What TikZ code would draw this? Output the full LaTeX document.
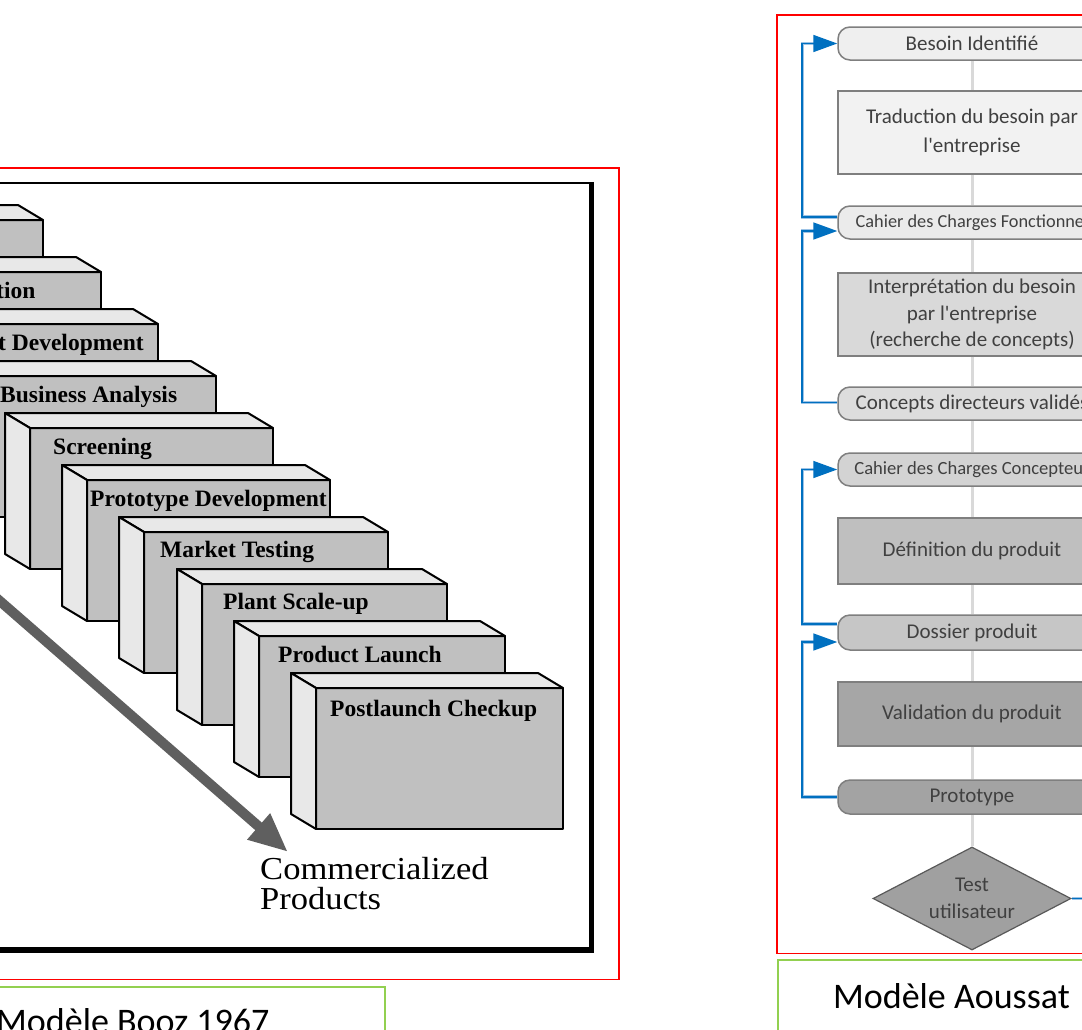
\documentclass[tikz,border=0pt]{standalone}
\usepackage{fontspec}
\setmainfont{Liberation Serif}
\newfontfamily\calib{Carlito}
\newfontfamily\comfont[FakeStretch=1.08]{Liberation Serif}
\usetikzlibrary{arrows.meta,shapes.geometric}
\definecolor{stepfront}{HTML}{C0C0C0}
\definecolor{steplight}{HTML}{E8E8E8}
\definecolor{arrowgray}{HTML}{5F5F5F}
\definecolor{framered}{HTML}{FF0000}
\definecolor{framegreen}{HTML}{92D050}
\definecolor{fbblue}{HTML}{0070C0}
\definecolor{fbhalo}{HTML}{9DC3E6}
\definecolor{axisgray}{HTML}{D9D9D9}
\definecolor{shapeborder}{HTML}{7F7F7F}
\definecolor{labelgray}{HTML}{404040}
\definecolor{fillA}{HTML}{EFEFEF}
\definecolor{fillB}{HTML}{F2F2F2}
\definecolor{fillC}{HTML}{EBEBEB}
\definecolor{fillD}{HTML}{D9D9D9}
\definecolor{fillE}{HTML}{DDDDDD}
\definecolor{fillF}{HTML}{D3D3D3}
\definecolor{fillG}{HTML}{BFBFBF}
\definecolor{fillH}{HTML}{C6C6C6}
\definecolor{fillI}{HTML}{A6A6A6}
\definecolor{fillJ}{HTML}{A3A3A3}
\definecolor{fillK}{HTML}{A0A0A0}
\begin{document}
\begin{tikzpicture}[x=1pt,y=-1pt,
  face/.style={draw=black, line width=2pt, line join=round},
  steptext/.style={anchor=base west, inner sep=0pt, font=\bfseries\fontsize{23.5}{28}\selectfont},
  term/.style={draw=shapeborder, line width=1.5pt, rectangle, rounded corners=12pt, minimum width=268pt, text=labelgray, inner sep=0pt, font=\calib\fontsize{21}{27}\selectfont},
  procbox/.style={draw=shapeborder, line width=1.5pt, rectangle, minimum width=268pt, text=labelgray, inner sep=0pt, align=center, font=\calib\fontsize{21}{27}\selectfont},
  decision/.style={draw=black!65, line width=1.2pt, diamond, aspect=2, minimum width=198pt, minimum height=103pt, inner sep=0pt, fill=fillK, text=labelgray, align=center, font=\calib\fontsize{21}{27}\selectfont},
  axisline/.style={draw=axisgray, line width=3pt},
  fb/.style={draw=fbblue, line width=1.7pt, -{Triangle[length=24pt,width=17pt]}, preaction={draw=fbhalo, line width=3.5pt, arrows=-, shorten >=22pt}},
  fbline/.style={draw=fbblue, line width=1.7pt, preaction={draw=fbhalo, line width=3.5pt}},
  bigarrow/.style={draw=arrowgray, line width=10pt, -{Triangle[length=39pt,width=32pt]}},
  redframe/.style={draw=framered, line width=1.8pt},
  greenframe/.style={draw=framegreen, line width=1.5pt},
  caption/.style={inner sep=0pt, font=\calib\fontsize{36}{40}\selectfont}
]
\path[use as bounding box] (0,0) rectangle (1082,1029);
\clip (0,0) rectangle (1082,1029);
\fill[white] (0,0) rectangle (1082,1029);

% ---------- Booz model ----------
\draw[redframe] (-20,168) rectangle (619,979.5);
\draw[line width=2.3pt] (-20,183) -- (591.7,183);
\draw[line width=4.7pt] (591.7,181.85) -- (591.7,953);
\draw[line width=6.3pt] (-20,950) -- (594,950);

\foreach \fl/\ft/\fr in {-198/220/43, -141/272/101, -84/324/158, -26/376/216, 30/428/273, 87/480/330, 144/532/388, 202/584/447, 259/636/505, 316/688/563}{
  \filldraw[face, fill=stepfront] (\fl,\ft) rectangle (\fr,\ft+141);
  \filldraw[face, fill=steplight] (\fl,\ft) -- (\fl-25,\ft-15) -- (\fr-25,\ft-15) -- (\fr,\ft) -- cycle;
  \filldraw[face, fill=steplight] (\fl,\ft) -- (\fl-25,\ft-15) -- (\fl-25,\ft+126) -- (\fl,\ft+141) -- cycle;
}
\node[steptext] (st2) at (-4,298) {tion};
\node[steptext] (st3) at (-2,350) {t Development};
\node[steptext] (st4) at (0,402) {Business Analysis};
\node[steptext] (st5) at (53,454) {Screening};
\node[steptext] (st6) at (90,506) {Prototype Development};
\node[steptext] (st7) at (160,557) {Market Testing};
\node[steptext] (st8) at (223,609) {Plant Scale-up};
\node[steptext] (st9) at (278,662) {Product Launch};
\node[steptext] (st10) at (330,716) {Postlaunch Checkup};

\coordinate (arrstart) at (-30,575);
\coordinate (arrtip) at (288,852);
\draw[bigarrow] (arrstart) -- (arrtip);
\node[anchor=north west, inner sep=0pt, align=left, font=\comfont\fontsize{32}{30.5}\selectfont] (comm) at (260,857) {Commercialized\\Products};

\draw[greenframe] (-20,987) rectangle (385,1060);
\node[caption, anchor=base west] (booz) at (-4,1033) {Modèle Booz 1967};

% ---------- Aoussat model ----------
\draw[redframe] (777,15) rectangle (1110,953.5);
\draw[greenframe] (778,960) rectangle (1110,1060);
\node[caption, anchor=base] (aoussat) at (951.5,1008) {Modèle Aoussat};

\node[term, fill=fillA, minimum height=33pt] (besoin) at (972,43.5) {Besoin Identifié};
\node[procbox, fill=fillB, minimum height=83pt, font=\calib\fontsize{21}{29}\selectfont] (trad) at (972,132.5) {Traduction du besoin par\\l'entreprise};
\node[term, fill=fillC, minimum height=33pt, font=\calib\fontsize{18.3}{22}\selectfont] (cdcf) at (972,222.5) {Cahier des Charges Fonctionnel};
\node[procbox, fill=fillD, minimum height=83pt, font=\calib\fontsize{21}{26.5}\selectfont] (interp) at (972,314.5) {Interprétation du besoin\\par l'entreprise\\(recherche de concepts)};
\node[term, fill=fillE, minimum height=33pt] (concepts) at (972,403.5) {Concepts directeurs validés};
\node[term, fill=fillF, minimum height=33pt, font=\calib\fontsize{18.6}{22}\selectfont] (cdcc) at (972,469.5) {Cahier des Charges Concepteur};
\node[procbox, fill=fillG, minimum height=66pt] (defin) at (972,551) {Définition du produit};
\node[term, fill=fillH, minimum height=35pt] (dossier) at (972,632.5) {Dossier produit};
\node[procbox, fill=fillI, minimum height=64pt] (valid) at (972,714) {Validation du produit};
\node[term, fill=fillJ, minimum height=34pt] (proto) at (972,797) {Prototype};
\node[decision] (test) at (972,898.5) {Test\\utilisateur};

\foreach \a/\b in {besoin/trad, trad/cdcf, cdcf/interp, interp/concepts, concepts/cdcc, cdcc/defin, defin/dossier, dossier/valid, valid/proto, proto/test}
  \draw[axisline] (\a) -- (\b);

\draw[fb] ([yshift=5.5pt]cdcf.west) -- ++(-35,0) |- (besoin.west);
\draw[fb] ([yshift=1pt]concepts.west) -- ++(-35,0) |- ([yshift=-8.5pt]cdcf.west);
\draw[fb] ([yshift=8.5pt]dossier.west) -- ++(-35,0) |- (cdcc.west);
\draw[fb] (proto.west) -- ++(-35,0) |- ([yshift=-9.5pt]dossier.west);
\coordinate (testout) at (1100,898.5);
\draw[fbline] (test.east) -- (testout);
\end{tikzpicture}
\end{document}
